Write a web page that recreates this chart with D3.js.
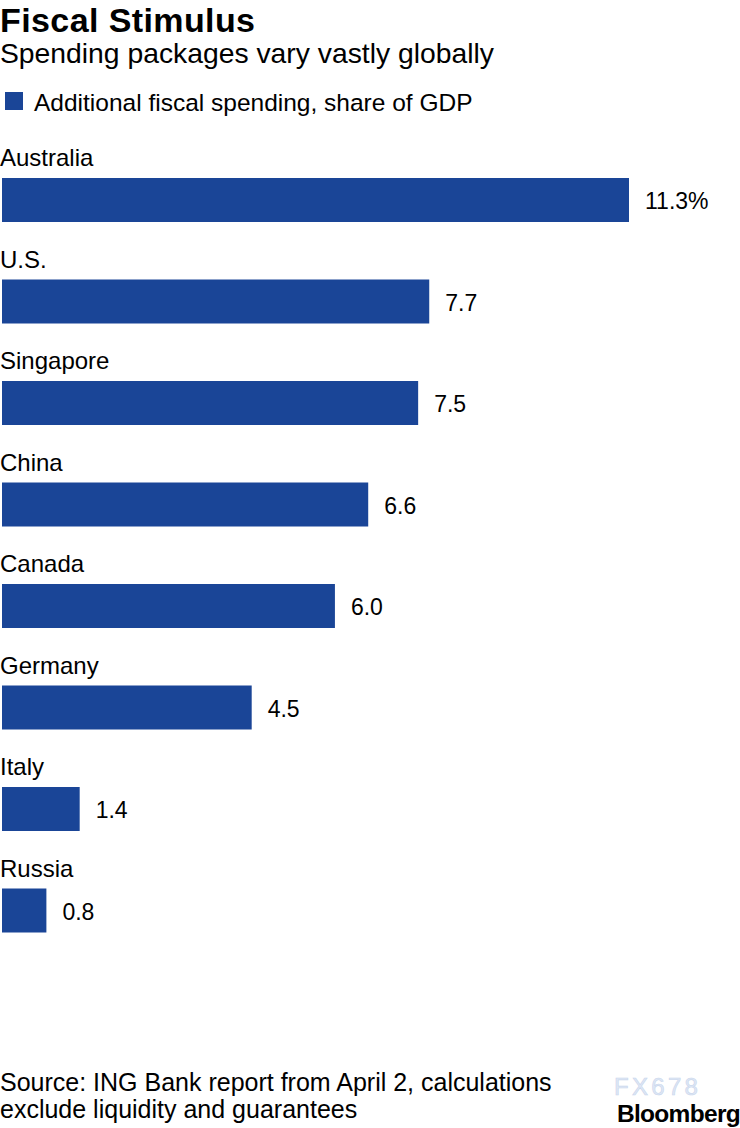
<!DOCTYPE html>
<html><head><meta charset="utf-8">
<script src="https://cdn.jsdelivr.net/npm/d3@7"></script>
<style>body{margin:0;background:#fff}svg{display:block}text{font-family:"Liberation Sans",Arial,Helvetica,sans-serif}</style>
</head><body>
<script>
const categories = ["Australia","U.S.","Singapore","China","Canada","Germany","Italy","Russia"];
const values = [11.3,7.7,7.5,6.6,6.0,4.5,1.4,0.8];
const valueLabels = ["11.3%","7.7","7.5","6.6","6.0","4.5","1.4","0.8"];
const seriesName = "Additional fiscal spending, share of GDP";

const W=740,H=1128, color="#1a4597";
const svg=d3.select("body").append("svg").attr("width",W).attr("height",H);

svg.append("text").attr("x",0).attr("y",32).attr("font-size",34).attr("font-weight","bold").attr("fill","#000").attr("letter-spacing",0.4).text("Fiscal Stimulus");
svg.append("text").attr("x",0).attr("y",63).attr("font-size",28.3).attr("fill","#000").text("Spending packages vary vastly globally");
svg.append("rect").attr("x",5).attr("y",92).attr("width",18).attr("height",18).attr("fill",color);
svg.append("text").attr("x",34).attr("y",111).attr("font-size",24.5).attr("fill","#000").text(seriesName);

const x=d3.scaleLinear().domain([0,11.3]).range([2,629]);
const y=d3.scaleBand().domain(categories).range([148,960]).paddingInner(0).paddingOuter(0);

const g=svg.append("g");
const row=g.selectAll("g.row").data(categories).join("g").attr("class","row")
  .attr("transform",d=>`translate(0,${y(d)})`);
row.append("text").attr("x",0).attr("y",18).attr("font-size",24).attr("fill","#000").text(d=>d);
row.append("rect").attr("x",x(0)).attr("y",30).attr("height",44)
  .attr("width",(d,i)=>x(values[i])-x(0)).attr("fill",color);
row.append("text").attr("x",(d,i)=>x(values[i])+16).attr("y",61).attr("font-size",23).attr("fill","#000")
  .text((d,i)=>valueLabels[i]);

svg.append("text").attr("x",0).attr("y",1091).attr("font-size",25).attr("fill","#000").text("Source: ING Bank report from April 2, calculations");
svg.append("text").attr("x",0).attr("y",1118).attr("font-size",25).attr("fill","#000").text("exclude liquidity and guarantees");
svg.append("text").attr("x",614).attr("y",1095).attr("font-size",24).attr("fill","#dfe8f6").attr("stroke","#c9d6ec").attr("stroke-width",0.6).attr("letter-spacing",3.3).text("FX678");
svg.append("text").attr("x",740).attr("y",1122).attr("text-anchor","end").attr("font-size",24.5).attr("font-weight","bold").attr("fill","#000").attr("letter-spacing",-0.7).text("Bloomberg");
</script>
</body></html>
